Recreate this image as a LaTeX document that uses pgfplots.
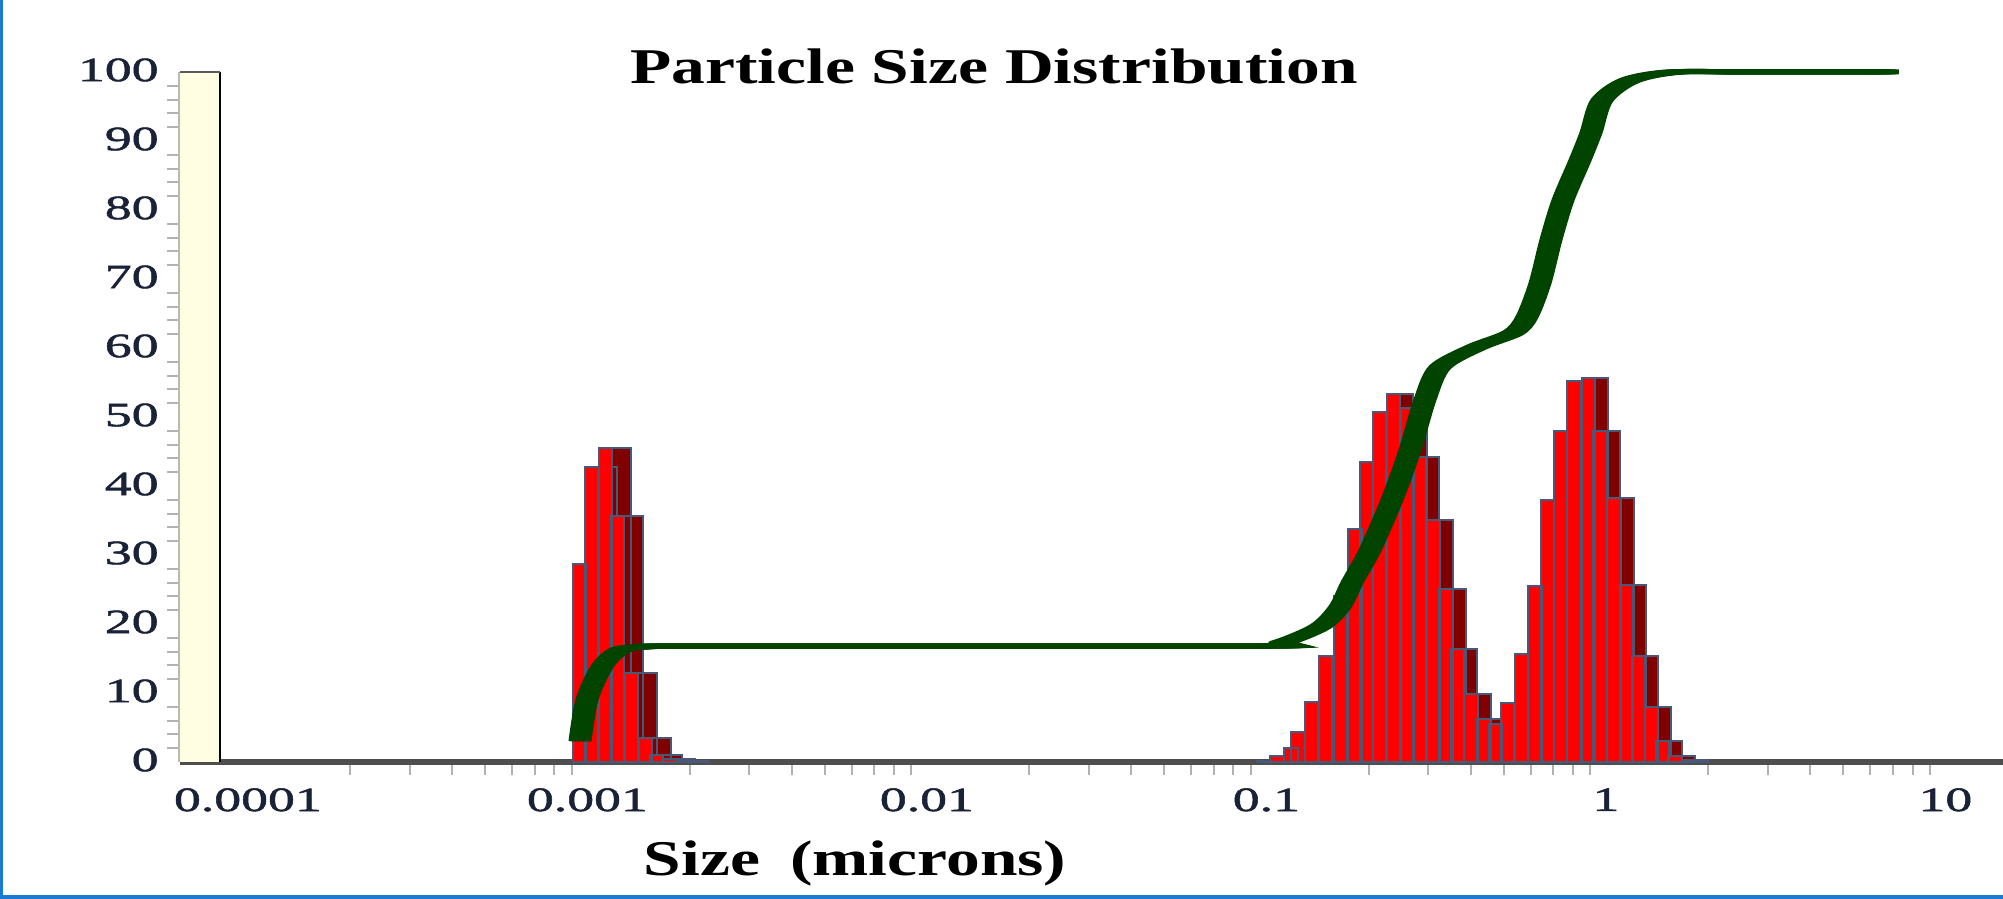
\documentclass[border=0pt]{standalone}
\usepackage{fontspec}
\setmainfont{Liberation Serif}
\newfontfamily\tickfont{Liberation Serif}[FakeStretch=1.58,FakeBold=1.6]
\newfontfamily\titlefont{Liberation Serif}[FakeStretch=1.35]
\usepackage{pgfplots}
\usepackage{pgfplotstable}
\pgfplotsset{compat=1.18}
\definecolor{barred}{HTML}{FF0000}
\definecolor{bardark}{HTML}{800000}
\definecolor{barline}{HTML}{4A5878}
\definecolor{curvegreen}{HTML}{004400}
\definecolor{cream}{HTML}{FFFDE2}
\definecolor{ticktext}{HTML}{1A2238}
\definecolor{framebl}{HTML}{1A7AD4}
\definecolor{floorgray}{HTML}{4E4E4E}

% size (microns)  frequency
\pgfplotstableread{
x h
0.000950 28.7
0.001029 42.7
0.001131 45.5
0.001227 35.7
0.001350 12.9
0.001484 3.5
0.001599 1.0
0.001746 0.4
0.001920 0.15
}\leftbars

\pgfplotstableread{
x h
0.09792 0.2
0.10738 0.8
0.11823 2.0
0.12398 4.4
0.13587 8.7
0.14941 15.4
0.16540 24.0
0.18226 33.7
0.19731 43.5
0.21549 50.7
0.23648 53.3
0.26055 51.3
0.28265 44.2
0.31017 35.1
0.33831 25.0
0.36575 16.4
0.40083 9.8
0.43777 6.3
0.47327 5.5
0.51342 8.6
0.56455 15.7
0.61785 25.5
0.67343 38.0
0.73397 47.9
0.80599 55.2
0.88748 55.6
0.96013 48.0
1.05718 38.3
1.15072 25.7
1.24829 15.3
1.36335 7.9
1.46891 3.1
1.59893 0.9
1.75227 0.3
}\rightbars

% cumulative (%)
\pgfplotstableread{
x c
0.000951 3.0
0.000997 9.0
0.001104 13.8
0.001247 16.2
0.001478 16.7
0.002146 16.8
0.08947 16.8
0.10976 17.2
0.14386 19.6
0.16477 22.5
0.17871 26.0
0.20197 30.7
0.23442 38.0
0.26485 45.2
0.29321 52.5
0.32448 57.2
0.41435 60.1
0.53272 62.2
0.58547 64.5
0.63963 69.4
0.68917 75.7
0.74747 81.4
0.83888 87.2
0.90386 91.2
0.97387 95.9
1.17761 98.8
1.59771 100
2.65705 100
6.8660 100
}\cumul

\begin{document}
\begin{tikzpicture}
\begin{axis}[
  at={(90pt,68.5pt)}, anchor=south west,
  scale only axis, width=911.5pt, height=345pt,
  xmode=log, xmin=6.3096e-5, xmax=14.78, ymin=0, ymax=100,
  axis x line*=bottom, axis y line*=left,
  x axis line style={draw=floorgray, line width=3pt},
  y axis line style={draw=gray!55, line width=1.5pt},
  clip=false,
  xtick={1e-4,1e-3,1e-2,1e-1,1,10},
  xticklabels={0.0001,0.001,0.01,0.1,1,10},
  minor xtick={2e-4,3e-4,4e-4,5e-4,6e-4,7e-4,8e-4,9e-4,
               2e-3,3e-3,4e-3,5e-3,6e-3,7e-3,8e-3,9e-3,
               2e-2,3e-2,4e-2,5e-2,6e-2,7e-2,8e-2,9e-2,
               0.2,0.3,0.4,0.5,0.6,0.7,0.8,0.9,
               2,3,4,5,6,7,8,9},
  ytick={0,10,...,100},
  yticklabels={0,10,20,30,40,50,60,70,80,90,100},
  minor y tick num=4,
  major tick length=0pt, minor tick length=6.5pt,
  tick align=outside,
  tick style={draw=gray!60, line width=1pt},
  xticklabel style={font={\tickfont\fontsize{17}{20}\selectfont}, text=ticktext, anchor=north, inner sep=0pt, yshift=-13pt},
  yticklabel style={font={\tickfont\fontsize{17}{20}\selectfont}, text=ticktext, anchor=east, inner sep=0pt, xshift=-10.5pt, yshift=1pt},
]
% back wall
\fill[cream] (rel axis cs:0,0) rectangle ([xshift=20pt]rel axis cs:0,1);
\draw[black, line width=1pt] ([xshift=20pt]rel axis cs:0,0) -- ([xshift=20pt]rel axis cs:0,1);
\draw[gray!70!black, line width=0.8pt] (rel axis cs:0,1) -- ([xshift=20pt]rel axis cs:0,1);

% bars: dark side faces, then red fronts
\addplot[ybar, bar width=16.15pt, bar shift=4.75pt, fill=bardark, draw=barline, line width=1pt] table[x=x, y=h] {\leftbars};
\addplot[ybar, bar width=6.65pt, bar shift=0pt, fill=barred, draw=barline, line width=1pt] table[x=x, y=h] {\leftbars};
\addplot[ybar, bar width=13.15pt, bar shift=3.25pt, fill=bardark, draw=barline, line width=1pt] table[x=x, y=h] {\rightbars};
\addplot[ybar, bar width=6.65pt, bar shift=0pt, fill=barred, draw=barline, line width=1pt] table[x=x, y=h] {\rightbars};

% cumulative ribbon
\pgfplotsinvokeforeach{-4.5,-3,-1.5,0,1.5,3,4.5}{
  \addplot[curvegreen, line width=2.5pt, smooth, xshift=#1pt, mark=none] table[x=x, y=c] {\cumul};
}

\node[anchor=base, font={\titlefont\bfseries\fontsize{25}{30}\selectfont}] at (rel axis cs:0.4465,0.984) {Particle Size Distribution};
\node[anchor=base, font={\titlefont\bfseries\fontsize{25}{30}\selectfont}] at (rel axis cs:0.3703,-0.1638) {Size\hspace{0.6em}(microns)};
\end{axis}
\pgfresetboundingbox
\useasboundingbox (0,0) rectangle (1001.5pt,449.5pt);
\fill[framebl] (0,0) rectangle (1.3pt,449.5pt);
\fill[framebl] (0,0) rectangle (1001.5pt,2.2pt);
\end{tikzpicture}
\end{document}
